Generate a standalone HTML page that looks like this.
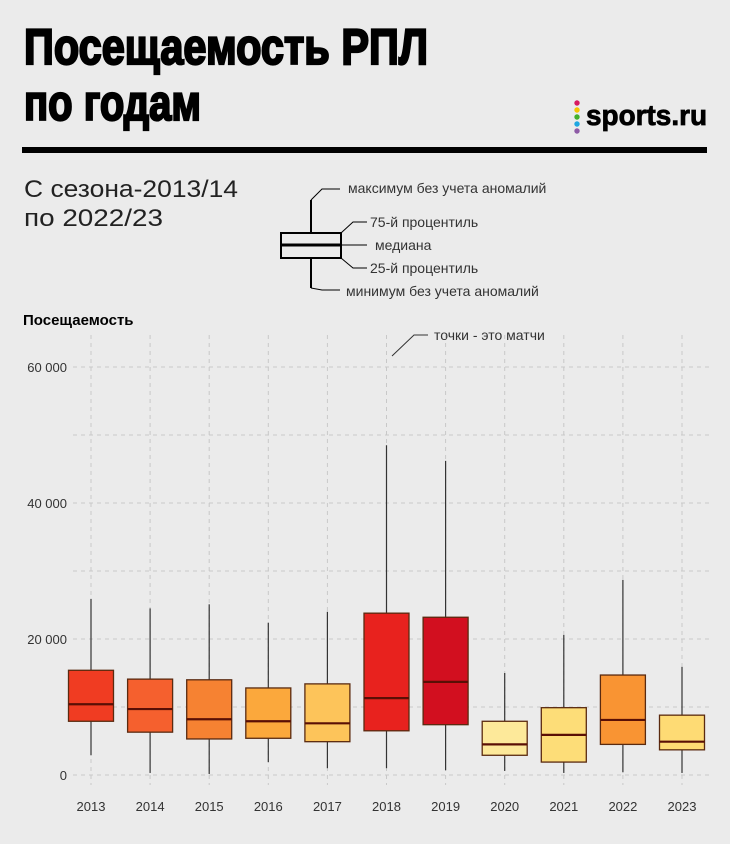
<!DOCTYPE html>
<html><head><meta charset="utf-8"><style>
body{margin:0;background:#ebebeb;}
svg{display:block;font-family:"Liberation Sans",sans-serif;}
</style></head><body>
<svg id="chart" width="730" height="844" viewBox="0 0 730 844" xmlns="http://www.w3.org/2000/svg">
<rect width="730" height="844" fill="#ebebeb"/>
<text x="24" y="64" font-size="50" font-weight="bold" textLength="404" lengthAdjust="spacingAndGlyphs" fill="#000" stroke="#000" stroke-width="2.2">Посещаемость РПЛ</text>
<text x="24" y="120" font-size="50" font-weight="bold" textLength="177" lengthAdjust="spacingAndGlyphs" fill="#000" stroke="#000" stroke-width="2.2">по годам</text>
<g>
<circle cx="577" cy="103" r="2.7" fill="#d81b60"/><circle cx="577" cy="110" r="2.7" fill="#f5c400"/><circle cx="577" cy="117" r="2.7" fill="#43b02a"/><circle cx="577" cy="124" r="2.7" fill="#1ea7e1"/><circle cx="577" cy="131" r="2.7" fill="#8e5ba6"/>
<text x="586" y="125" font-size="29" font-weight="bold" textLength="121" lengthAdjust="spacingAndGlyphs" fill="#000" stroke="#000" stroke-width="0.8">sports.ru</text>
</g>
<rect x="22" y="147" width="685" height="6" fill="#000"/>
<text x="24" y="197" font-size="24" textLength="214" lengthAdjust="spacingAndGlyphs" fill="#222">С сезона-2013/14</text>
<text x="24" y="226" font-size="24" textLength="139" lengthAdjust="spacingAndGlyphs" fill="#222">по 2022/23</text>
<g stroke="#000" fill="none">
<line x1="311" y1="200" x2="311" y2="233" stroke-width="2"/><line x1="311" y1="258" x2="311" y2="288" stroke-width="2"/>
<rect x="281" y="233" width="60" height="25" stroke-width="2"/><line x1="281" y1="245" x2="341" y2="245" stroke-width="3"/>
<polyline points="311,200 322,189 340,189" stroke-width="1"/>
<polyline points="341,233 353,222 367,222" stroke-width="1"/>
<line x1="341" y1="245" x2="367" y2="245" stroke-width="1"/>
<polyline points="341,258 353,268 367,268" stroke-width="1"/>
<polyline points="311,288 322,290 340,290" stroke-width="1"/>
</g>
<g font-size="14" fill="#333">
<text x="348" y="193">максимум без учета аномалий</text>
<text x="370" y="227">75-й процентиль</text>
<text x="375" y="250">медиана</text>
<text x="370" y="273">25-й процентиль</text>
<text x="346" y="296">минимум без учета аномалий</text>
</g>
<text x="23" y="325" font-size="15" font-weight="bold" fill="#000">Посещаемость</text>
<g>
<polyline points="392,356 414,335 428,335" stroke="#333" fill="none" stroke-width="1"/>
<text x="434" y="340" font-size="14" fill="#333">точки - это матчи</text>
</g>
<g id="grid"></g>
<g id="boxes"></g>
<g id="axis"></g>
</svg>
<script>
const years=["2013","2014","2015","2016","2017","2018","2019","2020","2021","2022","2023"];
const whiskerMax=[25900,24500,25100,22400,24000,48500,46200,15000,20600,28700,15900];
const q3=[15400,14100,14000,12800,13400,23800,23200,7900,9900,14700,8800];
const medians=[10400,9700,8200,7900,7600,11300,13700,4500,5900,8100,4900];
const q1=[7900,6300,5300,5400,4900,6500,7400,2900,1900,4500,3700];
const whiskerMin=[2900,300,150,1900,1000,1000,700,600,300,400,300];
const colors=["#f03c22","#f5602e","#f68232","#fba83c","#fdc45a","#e8221e","#d20f1f","#fde99a","#fddd78","#f99433","#fedb74"];
const yTicks=[0,20000,40000,60000];
const yTickLabels=["0","20 000","40 000","60 000"];
const yGrid=[0,10000,20000,30000,40000,50000,60000];
const NS="http://www.w3.org/2000/svg";
const y=v=>775-v*0.0068;
const x=i=>91+i*59.1;
const bw=45;
function mk(tag,attrs,parent){const e=document.createElementNS(NS,tag);for(const k in attrs)e.setAttribute(k,attrs[k]);parent.appendChild(e);return e;}
const grid=document.getElementById('grid'),boxes=document.getElementById('boxes'),axis=document.getElementById('axis');



yGrid.forEach(v=>{const l=mk('line',{x1:73,x2:712,y1:y(v),y2:y(v),stroke:'#c8c8c8','stroke-dasharray':'4 4','stroke-width':1},grid);

});
years.forEach((yr,i)=>{const l=mk('line',{x1:x(i),x2:x(i),y1:335,y2:785,stroke:'#c8c8c8','stroke-dasharray':'4 4','stroke-width':1},grid);

});
yTicks.forEach((v,i)=>{const t=mk('text',{x:67,y:y(v)+5,'text-anchor':'end','font-size':13,fill:'#333'},axis);t.textContent=yTickLabels[i];

});
years.forEach((yr,i)=>{const cx=x(i);
const g=mk('g',{},boxes);


mk('line',{x1:cx,x2:cx,y1:y(whiskerMax[i]),y2:y(q3[i]),stroke:'#333','stroke-width':1.2},g);
mk('line',{x1:cx,x2:cx,y1:y(q1[i]),y2:y(whiskerMin[i]),stroke:'#333','stroke-width':1.2},g);
mk('rect',{x:cx-bw/2,y:y(q3[i]),width:bw,height:y(q1[i])-y(q3[i]),fill:colors[i],stroke:'#5a2a10','stroke-width':1.3},g);
mk('line',{x1:cx-bw/2,x2:cx+bw/2,y1:y(medians[i]),y2:y(medians[i]),stroke:'#5a0f05','stroke-width':2.2},g);
const t=mk('text',{x:cx,y:811,'text-anchor':'middle','font-size':13,fill:'#333'},axis);t.textContent=yr;

});
</script>
</body></html>
